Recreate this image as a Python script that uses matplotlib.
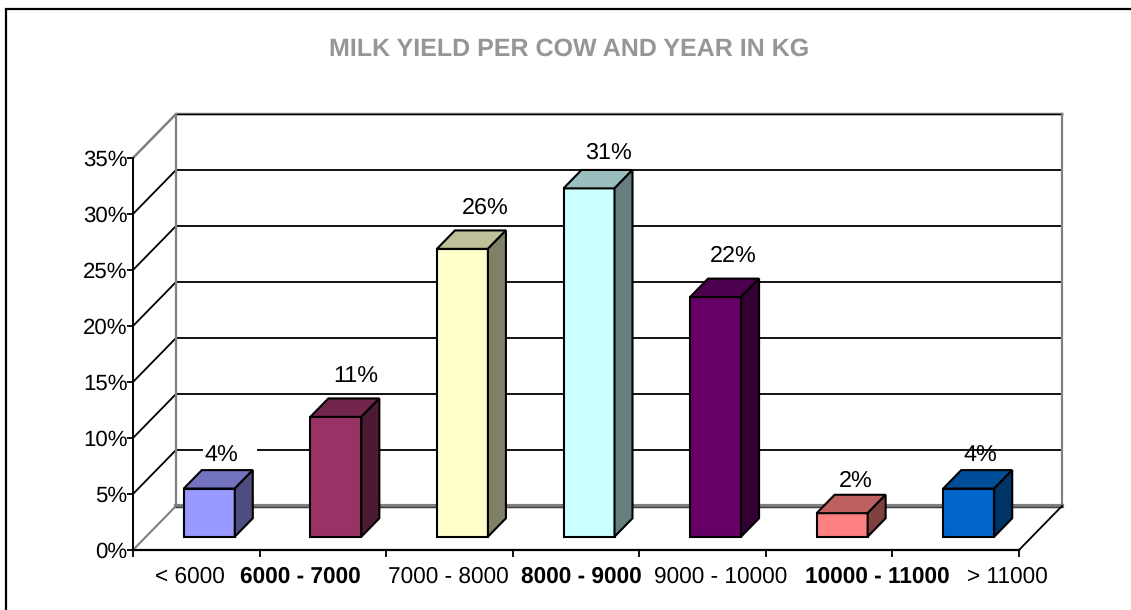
import matplotlib
matplotlib.use('Agg')
import matplotlib.pyplot as plt
from matplotlib.patches import Polygon, Rectangle

plt.rcParams['font.family'] = ['Liberation Sans', 'DejaVu Sans']
plt.rcParams['text.hinting'] = 'no_hinting'

title = 'MILK YIELD PER COW AND YEAR IN KG'
categories = ['< 6000', '6000 - 7000', '7000 - 8000', '8000 - 9000',
              '9000 - 10000', '10000 - 11000', '> 11000']
values = [4.3, 10.7, 25.7, 31.1, 21.4, 2.1, 4.3]
labels = ['4%', '11%', '26%', '31%', '22%', '2%', '4%']
colors = ['#9999FF', '#993366', '#FFFFCC', '#CCFFFF', '#660066', '#FF8080', '#0066CC']
yticks = [0, 5, 10, 15, 20, 25, 30, 35]

W, H = 1131, 610
x0, x1, y0, y1 = 133, 1019, 550, 158   # front plane of the plot, in pixels
px_x = (x1 - x0) / len(categories)
px_y = (y0 - y1) / yticks[-1]
depth_x, depth_y = 43 / px_x, 44 / px_y   # full depth of the floor in data units


def darker(col, f):
    rgb = matplotlib.colors.to_rgb(col)
    return tuple(c * f for c in rgb)


def proj(x, y, z=0.0):
    # oblique projection, z=0 is the front plane and z=1 the back wall
    return (x + z * depth_x, y + z * depth_y)


fig = plt.figure(figsize=(W / 100, H / 100), dpi=100)
fig.add_artist(Rectangle((6 / W, -0.01), 1.1, 1.01 - 8.5 / H, transform=fig.transFigure,
                         fill=False, ec='black', lw=1.6))

ax = fig.add_axes([x0 / W, 1 - y0 / H, (x1 - x0) / W, (y0 - y1) / H])
ax.set_xlim(0, len(categories))
ax.set_ylim(0, yticks[-1])
ax.patch.set_visible(False)
n = len(categories)

# gridlines on side and back walls
for v in yticks[1:-1]:
    ax.plot(*zip(proj(0, v), proj(0, v, 1), proj(n, v, 1)), color='black', lw=1.3,
            clip_on=False, zorder=1, solid_joinstyle='miter')
ax.plot(*zip(proj(0, 35), proj(0, 35, 1), proj(n, 35, 1)), color='#808080', lw=1.8,
        clip_on=False, zorder=1)
ax.plot(*zip(proj(0, 35, 1), proj(n, 35, 1)), color='black', lw=1.0, clip_on=False, zorder=1)
ax.plot(*zip(proj(0, 0, 1), proj(0, 35, 1)), color='#808080', lw=1.6, clip_on=False, zorder=1)
ax.plot(*zip(proj(n, 0, 1), proj(n, 35, 1)), color='#808080', lw=1.6, clip_on=False, zorder=1)

# the first label's white box cuts the 5% gridline, off centre
gap_a, gap_b = (203 - 176) / px_x, (257 - 176) / px_x
ax.plot(*zip(proj(gap_a, 5, 1), proj(gap_b, 5, 1)), color='white', lw=3, clip_on=False,
        zorder=1.5, solid_capstyle='butt')

# floor edges
ax.plot(*zip(proj(0, 0), proj(0, 0, 1)), color='#808080', lw=1.5, clip_on=False, zorder=1)
ax.plot(*zip(proj(0, 0, 1), proj(n, 0, 1)), color='#808080', lw=3.0, clip_on=False, zorder=1)
ax.plot(*zip(proj(0, -0.08, 1), proj(n, -0.08, 1)), color='#404040', lw=1.0, clip_on=False, zorder=1)
ax.plot(*zip(proj(n, 0), proj(n, 0, 1)), color='black', lw=1.3, clip_on=False, zorder=1)

# bars
bar_w = 51 / px_x
z_front, z_back = 13 / 43, 31 / 43
label_gap = [14, 22, 23, 17, 23, 14, 14]    # pixels above the bar top
label_dx = [-6, 2, 5, 1, 0, -4, -6]         # pixels right of the bar top centre
for i, val in enumerate(values):
    left = i + 0.5 - bar_w / 2
    right = left + bar_w
    col = colors[i]
    front = [proj(left, 0, z_front), proj(right, 0, z_front),
             proj(right, val, z_front), proj(left, val, z_front)]
    top = [proj(left, val, z_front), proj(right, val, z_front),
           proj(right, val, z_back), proj(left, val, z_back)]
    side = [proj(right, 0, z_front), proj(right, 0, z_back),
            proj(right, val, z_back), proj(right, val, z_front)]
    for pts, f in ((front, 1.0), (top, 0.75), (side, 0.5)):
        ax.add_patch(Polygon(pts, closed=True, fc=darker(col, f), ec='black', lw=1.5,
                             joinstyle='miter', clip_on=False, zorder=3))
    lx, ly = proj(i + 0.5, val + label_gap[i] / px_y, z_back)
    ax.text(lx + label_dx[i] / px_x, ly, labels[i], ha='center', va='center', fontsize=16.8,
            zorder=2, color='black')

# axes in the front plane
for s in ('top', 'right'):
    ax.spines[s].set_visible(False)
ax.spines['left'].set_linewidth(1.4)
ax.spines['bottom'].set_linewidth(1.6)
ax.set_xticks(range(n + 1))
ax.set_xticklabels([])
ax.set_yticks(yticks)
ax.set_yticklabels(['%d%%' % v for v in yticks], fontsize=16)
ax.tick_params(axis='y', length=4, width=1.3, pad=0)
ax.tick_params(axis='x', length=5, width=1.3)

cat_shift = [-6, -22, -1, 5, 18, 48, 52]    # labels do not sit centred under their slots
for i, name in enumerate(categories):
    ax.annotate(name, (i + 0.5, 0), xytext=(cat_shift[i], -27), textcoords='offset pixels',
                ha='center', va='center', fontsize=16.3,
                fontweight='bold' if i % 2 else 'normal')

fig.text(569 / W, 1 - 49 / H, title, ha='center', va='center', fontsize=18,
         fontweight='bold', color='#969696')

fig.savefig('out.png', dpi=100)
